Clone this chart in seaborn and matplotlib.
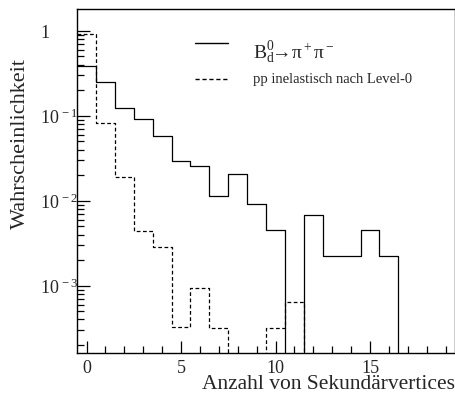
import numpy as np
import pandas as pd
import matplotlib
matplotlib.use("Agg")
import matplotlib.pyplot as plt
import seaborn as sns
from matplotlib.ticker import FuncFormatter, LogLocator, MultipleLocator

# Data (bin centres 0..19, probability per bin)
n_vertices = list(range(20))
bd_pipi = [0.39, 0.247, 0.124, 0.0915, 0.058, 0.0295, 0.0254, 0.0114, 0.0206, 0.00914,
           0.00455, 0.0, 0.00684, 0.00225, 0.00225, 0.00455, 0.00225, 0.0, 0.0, 0.0]
pp_inel = [0.91, 0.082, 0.0188, 0.00444, 0.00288, 0.00033, 0.00095, 0.00032, 0.0, 0.0,
           0.00032, 0.00064, 0.0, 0.0, 0.0, 0.0, 0.0, 0.0, 0.0, 0.0]
label_sig = r"$\mathregular{B_d^0\!\!\rightarrow\!\pi^+\pi^-}$"
label_bkg = "pp inelastisch nach Level-0"
xlabel = "Anzahl von Sekundärvertices"
ylabel = "Wahrscheinlichkeit"

sns.set_style("ticks")
plt.rcParams['font.family'] = ['Liberation Serif', 'DejaVu Serif']
plt.rcParams['mathtext.fontset'] = 'custom'
plt.rcParams['mathtext.rm'] = 'Liberation Serif'
plt.rcParams['mathtext.it'] = 'Liberation Serif:italic'

sig = pd.DataFrame({"n": n_vertices, "p": bd_pipi})
bkg = pd.DataFrame({"n": n_vertices, "p": pp_inel})

fig = plt.figure(figsize=(4.56, 4.06), dpi=100)
ax = fig.add_axes([0.169, 0.128, 0.829, 0.847])
ax.set_yscale("log", nonpositive="clip")

sns.histplot(data=sig, x="n", weights="p", discrete=True, element="step", fill=False,
             color="black", linewidth=0.9, ax=ax)
sns.histplot(data=bkg, x="n", weights="p", discrete=True, element="step", fill=False,
             color="black", linewidth=0.9, linestyle=(0, (3, 2)), ax=ax)

ax.set_xlim(-0.5, 19.5)
ax.set_ylim(1.61e-4, 1.8)

ax.xaxis.set_major_locator(MultipleLocator(5))
ax.xaxis.set_minor_locator(MultipleLocator(1))
ax.yaxis.set_major_locator(LogLocator(base=10, numticks=10))
ax.yaxis.set_minor_locator(LogLocator(base=10, subs=np.arange(2, 10), numticks=10))

def yfmt(v, pos):
    e = int(round(np.log10(v)))
    if e == 0:
        return "1"
    return r"$\mathregular{10^{\,%d}}$" % e
ax.yaxis.set_major_formatter(FuncFormatter(yfmt))

ax.tick_params(which="both", direction="in", top=False, right=False, labelsize=13,
               width=0.9, color="black")
ax.tick_params(which="major", length=9)
ax.tick_params(axis="x", which="major", pad=4)
ax.tick_params(axis="y", which="major", pad=26.5)
ax.tick_params(which="minor", length=5)
for lab in ax.get_yticklabels():
    lab.set_horizontalalignment("left")
for s in ax.spines.values():
    s.set_linewidth(1.0)
    s.set_color("black")

ax.set_xlabel(xlabel, fontsize=15.5, ha="right")
ax.xaxis.set_label_coords(1.0, -0.062)
ax.set_ylabel(ylabel, fontsize=16, ha="right")
ax.yaxis.set_label_coords(-0.125, 0.86)

# legend
ax.plot([0.312, 0.40], [0.901, 0.901], transform=ax.transAxes, color="black", lw=1.0)
ax.text(0.466, 0.860, label_sig, transform=ax.transAxes, fontsize=14, va="baseline")
ax.plot([0.312, 0.40], [0.797, 0.797], transform=ax.transAxes, color="black", lw=1.0,
        linestyle=(0, (3, 2)))
ax.text(0.466, 0.788, label_bkg, transform=ax.transAxes, fontsize=10.5, va="baseline")

fig.savefig("out.png", dpi=100)
